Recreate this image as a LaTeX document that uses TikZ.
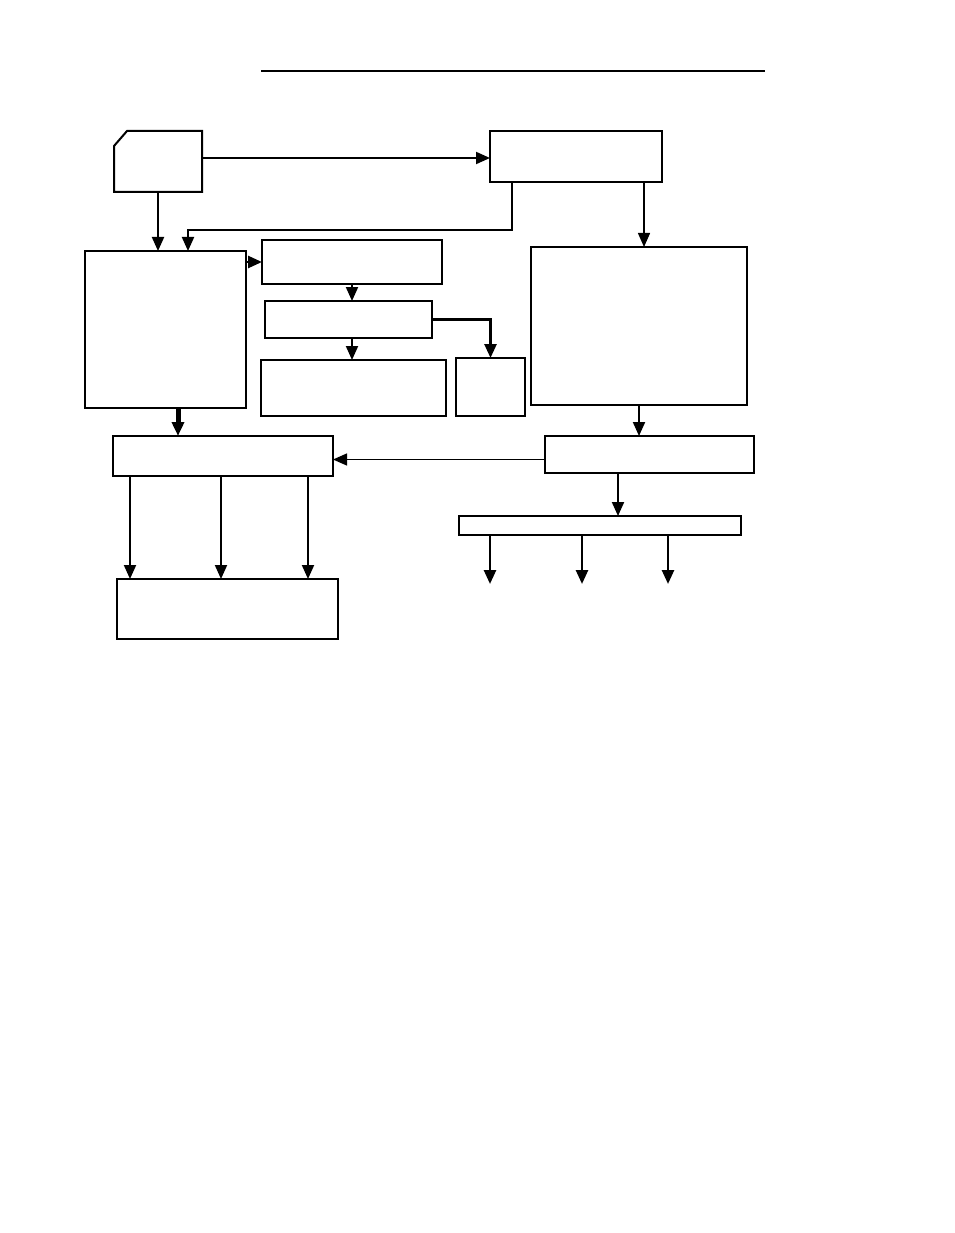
\documentclass[tikz,border=0pt]{standalone}
\usepackage{tikz}
\usetikzlibrary{arrows.meta}
\tikzset{
  blk/.style={draw, line width=2pt, inner sep=0pt, outer sep=0pt},
  arr/.style={-{Triangle[length=14pt,width=12pt]}, line width=2pt},
}

\begin{document}
\begin{tikzpicture}[x=1pt,y=-1pt]
\useasboundingbox (0,0) rectangle (954,1233);
\coordinate (RL) at (261,71);
\coordinate (RR) at (765,71);
\draw[line width=2.4pt] (RL) -- (RR);
% boxes
\node[inner sep=0pt, outer sep=0pt, minimum width=88pt, minimum height=61pt] (src) at (158,161.5) {};
\draw[line width=2pt] ([yshift=-15pt]src.north west) -- ([xshift=13pt]src.north west) -- (src.north east) -- (src.south east) -- (src.south west) -- cycle;
\node[blk, minimum width=172pt, minimum height=51pt] (ctrl) at (576,156.5) {};
\node[blk, minimum width=161pt, minimum height=157pt] (left) at (165.5,329.5) {};
\node[blk, minimum width=180pt, minimum height=44pt] (stepa) at (352,262) {};
\node[blk, minimum width=167pt, minimum height=37pt] (stepb) at (348.5,319.5) {};
\node[blk, minimum width=185pt, minimum height=56pt] (stepc) at (353.5,388) {};
\node[blk, minimum width=69pt, minimum height=58pt] (side) at (490.5,387) {};
\node[blk, minimum width=216pt, minimum height=158pt] (right) at (639,326) {};
\node[blk, minimum width=209pt, minimum height=37pt] (merge) at (649.5,454.5) {};
\node[blk, minimum width=220pt, minimum height=40pt] (collect) at (223,456) {};
\node[blk, minimum width=221pt, minimum height=60pt] (result) at (227.5,609) {};
\node[blk, minimum width=282pt, minimum height=19pt] (bus) at (600,525.5) {};
% connectors
\draw[arr] ([yshift=-1.5pt]ctrl.west -| src.east) -- ([yshift=-1.5pt]ctrl.west);
\draw[arr] (src.south) -- (src.south |- left.north);
\coordinate (bend) at (188,230);
\draw[arr] ([xshift=-64pt]ctrl.south) |- (bend) -- (bend |- left.north);
\draw[arr, line width=2.5pt] (stepa.west -| left.east) -- (stepa.west);
\draw[arr] (stepa.south) -- (stepa.south |- stepb.north);
\draw[arr] (stepa.south |- stepb.south) -- (stepa.south |- stepc.north);
\draw[arr, line width=2.6pt] (stepb.east) -| (side.north);
\draw[arr, line width=1.5pt] ([xshift=68pt]ctrl.south) -- ([xshift=68pt]ctrl.south |- right.north);
\draw[arr] (right.south) -- (right.south |- merge.north);
\draw[arr, line width=1.4pt] ([yshift=-5pt]merge.west) -- ([yshift=-5pt]merge.west -| collect.east);
\draw[arr, line width=5pt] ([xshift=12.5pt]left.south) -- ([xshift=12.5pt]left.south |- collect.north);
\foreach \dx in {-93,-2,85}
  \draw[arr] ([xshift=\dx pt]collect.south) -- ([xshift=\dx pt]collect.south |- result.north);
\draw[arr] ([xshift=-31.5pt]merge.south) -- ([xshift=-31.5pt]merge.south |- bus.north);
\foreach \dx/\n in {-110/a,-18/b,68/c}{
  \coordinate (out\n) at ([xshift=\dx pt, yshift=-49pt]bus.south);
  \draw[arr, line width=2.6pt] ([xshift=\dx pt]bus.south) -- (out\n);
}
\end{tikzpicture}
\end{document}
